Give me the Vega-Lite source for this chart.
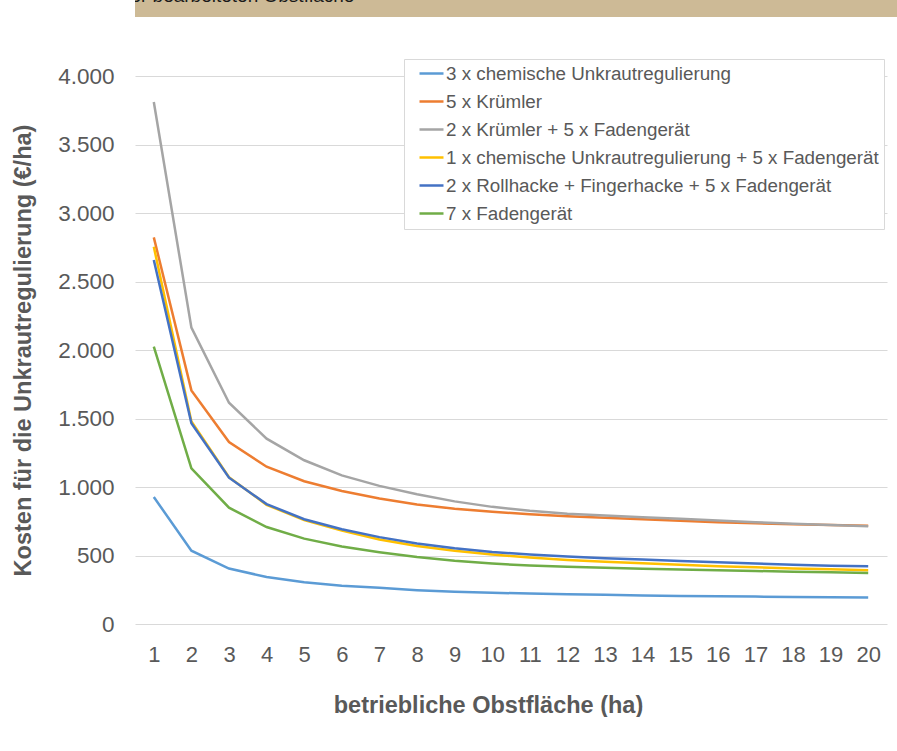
{
  "$schema": "https://vega.github.io/schema/vega-lite/v6.json",
  "padding": 0,
  "background": "white",
  "spacing": 41,
  "resolve": {"scale": {"color": "independent"}, "legend": {"color": "independent"}},
  "config": {
    "font": "Liberation Sans",
    "view": {"stroke": null}
  },
  "vconcat": [
    {
      "width": 762,
      "height": 17,
      "view": {"fill": "#CDBA96", "stroke": null},
      "data": {"values": [{"caption": "keit der bearbeiteten Obstfläche"}]},
      "mark": {
        "type": "text",
        "clip": true,
        "align": "left",
        "baseline": "alphabetic",
        "dx": -431,
        "dy": -7,
        "fontSize": 19,
        "color": "#1a1a1a"
      },
      "encoding": {"text": {"field": "caption", "type": "nominal"}}
    },
    {
      "width": 752,
      "height": 548,
      "data": {
        "values": [
          {"ha": 1, "3 x chemische Unkrautregulierung": 927, "5 x Krümler": 2822, "2 x Krümler + 5 x Fadengerät": 3810, "1 x chemische Unkrautregulierung + 5 x Fadengerät": 2754, "2 x Rollhacke + Fingerhacke + 5 x Fadengerät": 2657, "7 x Fadengerät": 2025},
          {"ha": 2, "3 x chemische Unkrautregulierung": 535, "5 x Krümler": 1705, "2 x Krümler + 5 x Fadengerät": 2163, "1 x chemische Unkrautregulierung + 5 x Fadengerät": 1478, "2 x Rollhacke + Fingerhacke + 5 x Fadengerät": 1465, "7 x Fadengerät": 1136},
          {"ha": 3, "3 x chemische Unkrautregulierung": 405, "5 x Krümler": 1328, "2 x Krümler + 5 x Fadengerät": 1615, "1 x chemische Unkrautregulierung + 5 x Fadengerät": 1072, "2 x Rollhacke + Fingerhacke + 5 x Fadengerät": 1068, "7 x Fadengerät": 849},
          {"ha": 4, "3 x chemische Unkrautregulierung": 343, "5 x Krümler": 1148, "2 x Krümler + 5 x Fadengerät": 1353, "1 x chemische Unkrautregulierung + 5 x Fadengerät": 870, "2 x Rollhacke + Fingerhacke + 5 x Fadengerät": 875, "7 x Fadengerät": 708},
          {"ha": 5, "3 x chemische Unkrautregulierung": 304, "5 x Krümler": 1042, "2 x Krümler + 5 x Fadengerät": 1195, "1 x chemische Unkrautregulierung + 5 x Fadengerät": 758, "2 x Rollhacke + Fingerhacke + 5 x Fadengerät": 765, "7 x Fadengerät": 623},
          {"ha": 6, "3 x chemische Unkrautregulierung": 280, "5 x Krümler": 971, "2 x Krümler + 5 x Fadengerät": 1085, "1 x chemische Unkrautregulierung + 5 x Fadengerät": 683, "2 x Rollhacke + Fingerhacke + 5 x Fadengerät": 692, "7 x Fadengerät": 565},
          {"ha": 7, "3 x chemische Unkrautregulierung": 264, "5 x Krümler": 916, "2 x Krümler + 5 x Fadengerät": 1008, "1 x chemische Unkrautregulierung + 5 x Fadengerät": 617, "2 x Rollhacke + Fingerhacke + 5 x Fadengerät": 634, "7 x Fadengerät": 524},
          {"ha": 8, "3 x chemische Unkrautregulierung": 247, "5 x Krümler": 873, "2 x Krümler + 5 x Fadengerät": 947, "1 x chemische Unkrautregulierung + 5 x Fadengerät": 570, "2 x Rollhacke + Fingerhacke + 5 x Fadengerät": 588, "7 x Fadengerät": 489},
          {"ha": 9, "3 x chemische Unkrautregulierung": 236, "5 x Krümler": 842, "2 x Krümler + 5 x Fadengerät": 895, "1 x chemische Unkrautregulierung + 5 x Fadengerät": 534, "2 x Rollhacke + Fingerhacke + 5 x Fadengerät": 553, "7 x Fadengerät": 461},
          {"ha": 10, "3 x chemische Unkrautregulierung": 228, "5 x Krümler": 820, "2 x Krümler + 5 x Fadengerät": 855, "1 x chemische Unkrautregulierung + 5 x Fadengerät": 507, "2 x Rollhacke + Fingerhacke + 5 x Fadengerät": 526, "7 x Fadengerät": 441},
          {"ha": 11, "3 x chemische Unkrautregulierung": 222, "5 x Krümler": 801, "2 x Krümler + 5 x Fadengerät": 826, "1 x chemische Unkrautregulierung + 5 x Fadengerät": 485, "2 x Rollhacke + Fingerhacke + 5 x Fadengerät": 507, "7 x Fadengerät": 427},
          {"ha": 12, "3 x chemische Unkrautregulierung": 217, "5 x Krümler": 787, "2 x Krümler + 5 x Fadengerät": 805, "1 x chemische Unkrautregulierung + 5 x Fadengerät": 468, "2 x Rollhacke + Fingerhacke + 5 x Fadengerät": 492, "7 x Fadengerät": 417},
          {"ha": 13, "3 x chemische Unkrautregulierung": 213, "5 x Krümler": 775, "2 x Krümler + 5 x Fadengerät": 792, "1 x chemische Unkrautregulierung + 5 x Fadengerät": 455, "2 x Rollhacke + Fingerhacke + 5 x Fadengerät": 480, "7 x Fadengerät": 410},
          {"ha": 14, "3 x chemische Unkrautregulierung": 208, "5 x Krümler": 765, "2 x Krümler + 5 x Fadengerät": 780, "1 x chemische Unkrautregulierung + 5 x Fadengerät": 443, "2 x Rollhacke + Fingerhacke + 5 x Fadengerät": 470, "7 x Fadengerät": 404},
          {"ha": 15, "3 x chemische Unkrautregulierung": 205, "5 x Krümler": 753, "2 x Krümler + 5 x Fadengerät": 768, "1 x chemische Unkrautregulierung + 5 x Fadengerät": 432, "2 x Rollhacke + Fingerhacke + 5 x Fadengerät": 460, "7 x Fadengerät": 398},
          {"ha": 16, "3 x chemische Unkrautregulierung": 202, "5 x Krümler": 743, "2 x Krümler + 5 x Fadengerät": 755, "1 x chemische Unkrautregulierung + 5 x Fadengerät": 422, "2 x Rollhacke + Fingerhacke + 5 x Fadengerät": 450, "7 x Fadengerät": 392},
          {"ha": 17, "3 x chemische Unkrautregulierung": 200, "5 x Krümler": 735, "2 x Krümler + 5 x Fadengerät": 743, "1 x chemische Unkrautregulierung + 5 x Fadengerät": 414, "2 x Rollhacke + Fingerhacke + 5 x Fadengerät": 441, "7 x Fadengerät": 387},
          {"ha": 18, "3 x chemische Unkrautregulierung": 197, "5 x Krümler": 729, "2 x Krümler + 5 x Fadengerät": 732, "1 x chemische Unkrautregulierung + 5 x Fadengerät": 406, "2 x Rollhacke + Fingerhacke + 5 x Fadengerät": 433, "7 x Fadengerät": 382},
          {"ha": 19, "3 x chemische Unkrautregulierung": 195, "5 x Krümler": 723, "2 x Krümler + 5 x Fadengerät": 722, "1 x chemische Unkrautregulierung + 5 x Fadengerät": 399, "2 x Rollhacke + Fingerhacke + 5 x Fadengerät": 426, "7 x Fadengerät": 377},
          {"ha": 20, "3 x chemische Unkrautregulierung": 193, "5 x Krümler": 718, "2 x Krümler + 5 x Fadengerät": 713, "1 x chemische Unkrautregulierung + 5 x Fadengerät": 392, "2 x Rollhacke + Fingerhacke + 5 x Fadengerät": 421, "7 x Fadengerät": 372}
        ]
      },
      "transform": [
        {
          "fold": [
            "3 x chemische Unkrautregulierung",
            "5 x Krümler",
            "2 x Krümler + 5 x Fadengerät",
            "1 x chemische Unkrautregulierung + 5 x Fadengerät",
            "2 x Rollhacke + Fingerhacke + 5 x Fadengerät",
            "7 x Fadengerät"
          ],
          "as": ["variante", "kosten"]
        }
      ],
      "mark": {"type": "line", "strokeWidth": 2.5},
      "encoding": {
        "x": {
          "field": "ha",
          "type": "ordinal",
          "scale": {"type": "point", "padding": 0.5},
          "axis": {
            "title": "betriebliche Obstfläche (ha)",
            "titleFontSize": 23.5,
            "titleFontWeight": "bold",
            "titleColor": "#595959",
            "titlePadding": 28,
            "titleX": 353,
            "labelFontSize": 22,
            "labelColor": "#595959",
            "labelPadding": 20,
            "labelAngle": 0,
            "ticks": false,
            "domain": false,
            "grid": false
          }
        },
        "y": {
          "field": "kosten",
          "type": "quantitative",
          "scale": {"domain": [0, 4000], "nice": false},
          "axis": {
            "title": [" ", "Kosten für die Unkrautregulierung  (€/ha)"],
            "titleFontSize": 23.5,
            "titleFontWeight": "bold",
            "titleColor": "#595959",
            "titleLineHeight": 11,
            "titlePadding": 22,
            "values": [0, 500, 1000, 1500, 2000, 2500, 3000, 3500, 4000],
            "labelExpr": "replace(format(datum.value, ','), ',', '.')",
            "labelFontSize": 22.5,
            "labelColor": "#595959",
            "labelPadding": 21,
            "ticks": false,
            "domain": false,
            "gridColor": "#D9D9D9",
            "gridWidth": 1
          }
        },
        "color": {
          "field": "variante",
          "type": "nominal",
          "sort": null,
          "scale": {
            "domain": [
              "3 x chemische Unkrautregulierung",
              "5 x Krümler",
              "2 x Krümler + 5 x Fadengerät",
              "1 x chemische Unkrautregulierung + 5 x Fadengerät",
              "2 x Rollhacke + Fingerhacke + 5 x Fadengerät",
              "7 x Fadengerät"
            ],
            "range": ["#5B9BD5", "#ED7D31", "#A5A5A5", "#FFC000", "#4472C4", "#70AD47"]
          },
          "legend": {
            "title": null,
            "orient": "none",
            "legendX": 269,
            "legendY": -17,
            "symbolType": "M-1.5,0H1.5",
            "symbolSize": 256,
            "symbolStrokeWidth": 2.5,
            "labelFontSize": 18.8,
            "labelColor": "#595959",
            "labelLimit": 700,
            "labelOffset": 5,
            "symbolOffset": 13,
            "padding": 5,
            "rowPadding": 8,
            "strokeColor": "#D9D9D9",
            "fillColor": "white"
          }
        }
      }
    }
  ]
}
